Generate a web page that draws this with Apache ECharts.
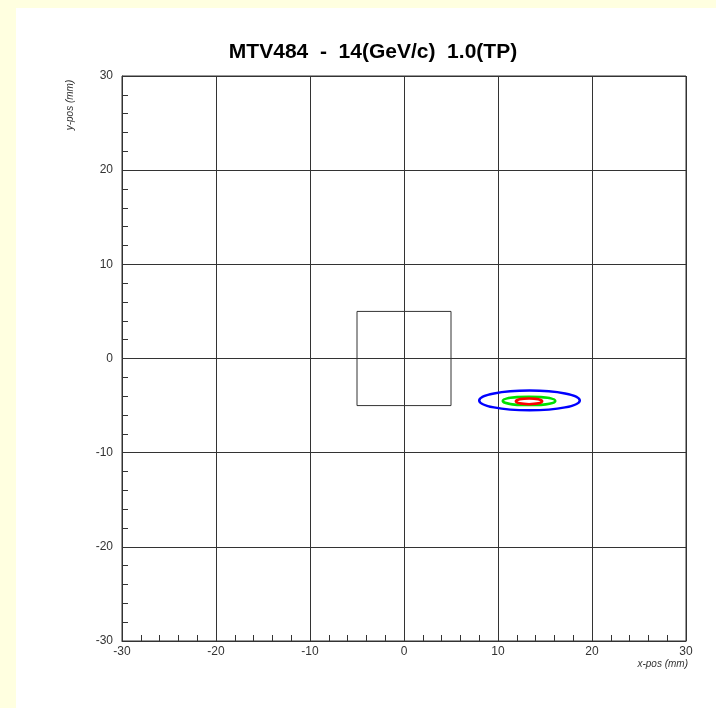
<!DOCTYPE html>
<html>
<head>
<meta charset="utf-8">
<script src="https://cdn.jsdelivr.net/npm/echarts@6/dist/echarts.min.js"></script>
<style>
body { margin: 0; background: #ffffe0; }
#beam-chart { position: absolute; left: 16px; top: 8px; width: 700px; height: 700px; background: #fff; }
</style>
</head>
<body>
<div id="beam-chart"></div>
<script>
// axis ranges (mm)
const xRange = [-30, 30]
const yRange = [-30, 30]
// target square outline (mm)
const squareX = [-5, 5, 5, -5, -5]
const squareY = [-5, -5, 5, 5, -5]
// beam contours: center x, center y, half width, half height (mm)
const contourNames = ['outer', 'middle', 'inner']
const contourCx = [13.35, 13.3, 13.3]
const contourCy = [-4.45, -4.5, -4.55]
const contourRx = [5.35, 2.8, 1.4]
const contourRy = [1.05, 0.45, 0.3]

const contourColors = ['#0000ff', '#00e000', '#ff0000']
const lineColor = '#333'
const labelFont = { color: '#333', fontSize: 12, fontFamily: 'Liberation Sans' }

const chart = echarts.init(document.getElementById('beam-chart'))

const contourSeries = contourNames.map((name, i) => ({
  name: name,
  type: 'custom',
  coordinateSystem: 'cartesian2d',
  data: [[contourCx[i], contourCy[i], contourRx[i], contourRy[i]]],
  encode: { x: 0, y: 1 },
  z: 5 + i,
  renderItem(params, api) {
    const c = api.coord([api.value(0), api.value(1)])
    const s = api.size([api.value(2), api.value(3)])
    return {
      type: 'ellipse',
      shape: { cx: c[0], cy: c[1], rx: s[0], ry: s[1] },
      style: { fill: 'none', stroke: contourColors[i], lineWidth: 2.5 }
    }
  }
}))

chart.setOption({
  animation: false,
  grid: {
    left: 106,
    right: 30,
    top: 68,
    bottom: 67,
    show: true,
    borderColor: lineColor,
    borderWidth: 1,
    backgroundColor: 'transparent'
  },
  xAxis: {
    type: 'value',
    min: xRange[0],
    max: xRange[1],
    interval: 10,
    axisLine: { show: true, onZero: false, lineStyle: { color: lineColor } },
    axisTick: { show: true, inside: true, length: 10, lineStyle: { color: lineColor } },
    minorTick: { show: true, splitNumber: 5, length: 6, lineStyle: { color: lineColor } },
    splitLine: { show: true, lineStyle: { color: lineColor, width: 1 } },
    axisLabel: Object.assign({ margin: 5 }, labelFont)
  },
  yAxis: {
    type: 'value',
    min: yRange[0],
    max: yRange[1],
    interval: 10,
    axisLine: { show: true, onZero: false, lineStyle: { color: lineColor } },
    axisTick: { show: true, inside: true, length: 10, lineStyle: { color: lineColor } },
    minorTick: { show: true, splitNumber: 5, length: 6, lineStyle: { color: lineColor } },
    splitLine: { show: true, lineStyle: { color: lineColor, width: 1 } },
    axisLabel: Object.assign({ margin: 9 }, labelFont)
  },
  graphic: [
    {
      type: 'text',
      x: 357,
      y: 44,
      style: {
        text: 'MTV484  -  14(GeV/c)  1.0(TP)',
        font: 'bold 21px "Liberation Sans"',
        fill: '#000',
        textAlign: 'center',
        textVerticalAlign: 'middle'
      }
    },
    {
      type: 'text',
      x: 54,
      y: 97,
      rotation: Math.PI / 2,
      style: {
        text: 'y-pos (mm)',
        font: 'italic 10px "Liberation Sans"',
        fill: '#333',
        textAlign: 'center',
        textVerticalAlign: 'middle'
      }
    },
    {
      type: 'text',
      x: 672,
      y: 656,
      style: {
        text: 'x-pos (mm)',
        font: 'italic 10px "Liberation Sans"',
        fill: '#333',
        textAlign: 'right',
        textVerticalAlign: 'middle'
      }
    }
  ],
  series: [
    {
      name: 'target',
      type: 'line',
      data: squareX.map((x, i) => [x, squareY[i]]),
      symbol: 'none',
      z: 4,
      lineStyle: { color: lineColor, width: 1 }
    }
  ].concat(contourSeries)
})
</script>
</body>
</html>
